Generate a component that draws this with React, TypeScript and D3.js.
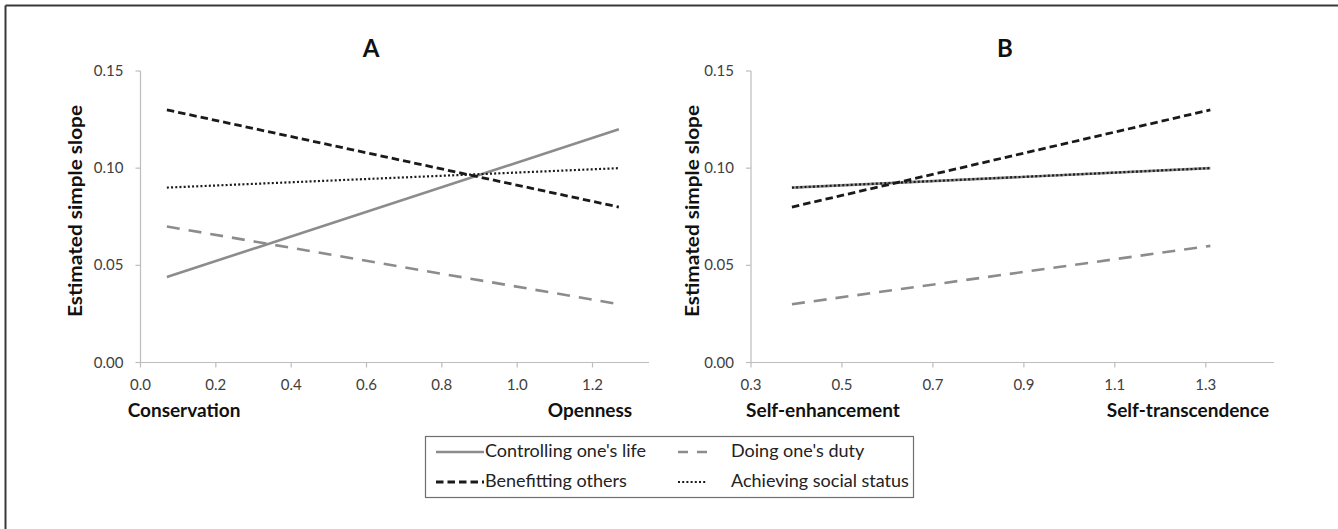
import React from "react";
import * as d3 from "d3";

const seriesNames = ["Controlling one's life", "Doing one's duty", "Benefitting others", "Achieving social status"];

const panelAX = [0.07, 1.27];
const panelAControlling = [0.044, 0.12];
const panelADuty = [0.07, 0.03];
const panelABenefitting = [0.13, 0.08];
const panelAAchieving = [0.09, 0.1];

const panelBX = [0.39, 1.31];
const panelBControlling = [0.09, 0.1];
const panelBDuty = [0.03, 0.06];
const panelBBenefitting = [0.08, 0.13];
const panelBAchieving = [0.09, 0.1];

const yTicks = [0, 0.05, 0.1, 0.15];
const panelATicks = [0, 0.2, 0.4, 0.6, 0.8, 1.0, 1.2];
const panelBTicks = [0.3, 0.5, 0.7, 0.9, 1.1, 1.3];

const FONT = "Lato, 'Open Sans', sans-serif";

const styles = [
  { stroke: "#8c8c8c", width: 2.6, dash: "" },
  { stroke: "#8c8c8c", width: 2.6, dash: "13,9" },
  { stroke: "#1a1a1a", width: 2.8, dash: "7.5,4" },
  { stroke: "#1a1a1a", width: 2.2, dash: "2,2.2" },
];

type PanelProps = {
  title: string;
  xs: number[];
  series: number[][];
  xDomain: [number, number];
  xRange: [number, number];
  ticks: number[];
  leftLabel: string;
  rightLabel: string;
  leftLabelX: number;
  rightLabelX: number;
  titleX: number;
  yTitleX: number;
};

function Panel(p: PanelProps) {
  const x = d3.scaleLinear().domain(p.xDomain).range(p.xRange);
  const y = d3.scaleLinear().domain([0, 0.15]).range([362.5, 71]);
  const line = d3
    .line<[number, number]>()
    .x((d) => x(d[0]))
    .y((d) => y(d[1]));
  const x0 = p.xRange[0];
  return (
    <g>
      <text x={p.titleX} y={57} textAnchor="middle" fontFamily={FONT} fontWeight="bold" fontSize={24} fill="#111">
        {p.title}
      </text>
      <line x1={x0} x2={x0} y1={y(0.15)} y2={y(0)} stroke="#bdbdbd" strokeWidth={1.2} />
      {yTicks.map((t) => (
        <g key={t}>
          <line x1={x0 - 5} x2={x0} y1={y(t)} y2={y(t)} stroke="#bdbdbd" strokeWidth={1.2} />
          <text x={x0 - 17} y={y(t) + 5} textAnchor="end" fontFamily={FONT} fontSize={15} fill="#404040">
            {d3.format(".2f")(t)}
          </text>
        </g>
      ))}
      <line x1={x0} x2={p.xRange[1]} y1={y(0)} y2={y(0)} stroke="#bdbdbd" strokeWidth={1.2} />
      {p.ticks.map((t) => (
        <g key={t}>
          <line x1={x(t)} x2={x(t)} y1={y(0)} y2={y(0) + 5} stroke="#bdbdbd" strokeWidth={1.2} />
          <text x={x(t)} y={390} textAnchor="middle" fontFamily={FONT} fontSize={15} fill="#404040">
            {d3.format(".1f")(t)}
          </text>
        </g>
      ))}
      <text
        transform={`translate(${p.yTitleX},211) rotate(-90)`}
        textAnchor="middle"
        fontFamily={FONT}
        fontWeight="bold"
        fontSize={19}
        textLength={212}
        lengthAdjust="spacingAndGlyphs"
        fill="#111"
      >
        Estimated simple slope
      </text>
      <text x={p.leftLabelX} y={417} textAnchor="middle" fontFamily={FONT} fontWeight="bold" fontSize={19} fill="#111">
        {p.leftLabel}
      </text>
      <text x={p.rightLabelX} y={417} textAnchor="middle" fontFamily={FONT} fontWeight="bold" fontSize={19} fill="#111">
        {p.rightLabel}
      </text>
      {p.series.map((vals, i) => (
        <path
          key={i}
          d={line(p.xs.map((xv, j) => [xv, vals[j]] as [number, number])) || ""}
          fill="none"
          stroke={styles[i].stroke}
          strokeWidth={styles[i].width}
          strokeDasharray={styles[i].dash}
        />
      ))}
    </g>
  );
}

export default function App() {
  const legendItems = [
    { i: 0, sx: 436, ex: 484, tx: 485, y: 457 },
    { i: 1, sx: 678, ex: 707, tx: 731, y: 457 },
    { i: 2, sx: 436, ex: 484, tx: 485, y: 487 },
    { i: 3, sx: 678, ex: 707, tx: 731, y: 487 },
  ];
  return (
    <svg
      width={1338}
      height={529}
      style={{ position: "absolute", left: 0, top: 0, background: "#fff" }}
    >
      <rect x={0} y={0} width={1338} height={529} fill="#fff" />
      <line x1={5.5} x2={1338} y1={5.5} y2={5.5} stroke="#3a3a3a" strokeWidth={2} />
      <line x1={5.5} x2={5.5} y1={5.5} y2={529} stroke="#3a3a3a" strokeWidth={2} />
      <Panel
        title="A"
        xs={panelAX}
        series={[panelAControlling, panelADuty, panelABenefitting, panelAAchieving]}
        xDomain={[0, 1.35]}
        xRange={[140.5, 649]}
        ticks={panelATicks}
        leftLabel="Conservation"
        rightLabel="Openness"
        leftLabelX={184}
        rightLabelX={590}
        titleX={371}
        yTitleX={82}
      />
      <Panel
        title="B"
        xs={panelBX}
        series={[panelBControlling, panelBDuty, panelBBenefitting, panelBAchieving]}
        xDomain={[0.3, 1.45]}
        xRange={[751, 1274]}
        ticks={panelBTicks}
        leftLabel="Self-enhancement"
        rightLabel="Self-transcendence"
        leftLabelX={823}
        rightLabelX={1188}
        titleX={1005}
        yTitleX={699}
      />
      <rect x={425.5} y={436.5} width={488} height={61} fill="#fff" stroke="#6e6e6e" strokeWidth={1.2} />
      {legendItems.map((it) => (
        <g key={it.i}>
          <line
            x1={it.sx}
            x2={it.ex}
            y1={it.y - 5}
            y2={it.y - 5}
            stroke={styles[it.i].stroke}
            strokeWidth={styles[it.i].width}
            strokeDasharray={it.i === 1 ? "10,9" : styles[it.i].dash}
          />
          <text x={it.tx} y={it.y} fontFamily={FONT} fontSize={18} fill="#222">
            {seriesNames[it.i]}
          </text>
        </g>
      ))}
    </svg>
  );
}
